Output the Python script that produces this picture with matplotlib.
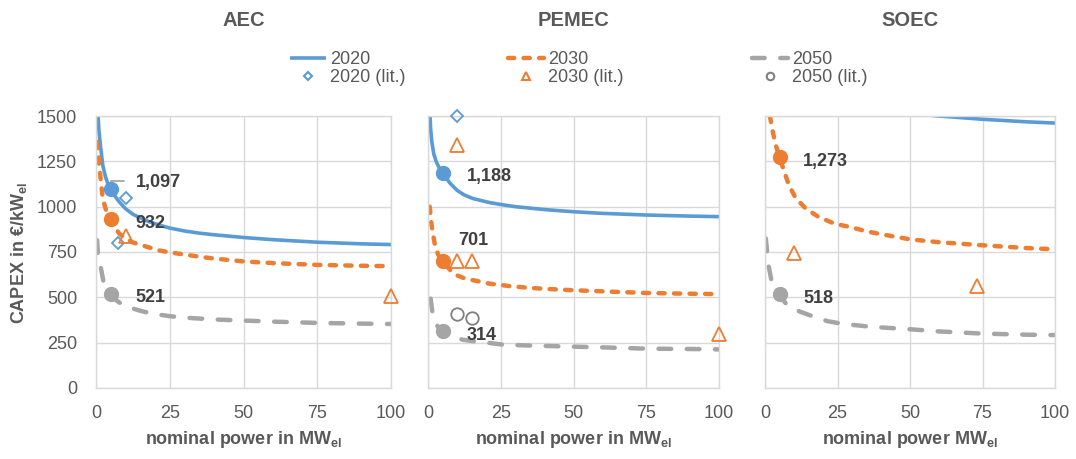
import matplotlib.pyplot as plt
from matplotlib.lines import Line2D

plt.rcParams['font.family'] = ['Liberation Sans', 'DejaVu Sans']
plt.rcParams['mathtext.default'] = 'regular'

# electrolyser types and scenario years
techs = ['AEC', 'PEMEC', 'SOEC']
years = ['2020', '2030', '2050']

# CAPEX curves over nominal power (MW_el -> EUR/kW_el)
aec_p_2020 = [0.7, 1.0, 1.5, 2.3, 3.2, 4, 5, 6, 7.7, 10, 12.5, 15.6, 18, 21.3, 25,
              30, 35, 40, 50, 60, 75, 90, 100]
aec_c_2020 = [1500, 1420, 1338, 1228, 1165, 1128, 1097, 1068, 1030, 989, 958, 934, 917,
              899, 882, 866, 854, 845, 830, 818, 804, 795, 791]
aec_p_2030 = [0.5, 1.1, 1.8, 2.3, 3.5, 5, 6.6, 8, 10, 12.5, 15.6, 21.3, 25, 30, 35, 40,
              50, 60, 75, 90, 100]
aec_c_2030 = [1357, 1228, 1118, 1044, 975, 932, 880, 850, 824, 803, 787, 759, 748, 736,
              724, 714, 698, 689, 679, 674, 672]
aec_p_2050 = [0.4, 0.6, 1.5, 2.6, 5, 7, 9.4, 14.5, 19, 25, 30, 40, 50, 60, 75, 90, 100]
aec_c_2050 = [815, 742, 676, 580, 521, 482, 455, 428, 410, 396, 388, 378, 372, 366, 359,
              355, 353]

pemec_p_2020 = [0.7, 0.9, 1.3, 2.0, 2.9, 4, 5, 6, 7.7, 10, 12.5, 15.6, 21.3, 25, 30, 40,
                50, 60, 75, 90, 100]
pemec_c_2020 = [1500, 1430, 1360, 1290, 1245, 1210, 1188, 1163, 1127, 1090, 1064, 1044,
                1022, 1012, 1000, 984, 972, 963, 954, 948, 945]
pemec_p_2030 = [0.6, 1.1, 1.7, 2.4, 3.5, 5, 6, 7.7, 10, 12.5, 15.6, 21.3, 25, 28, 35, 40,
                50, 60, 75, 90, 100]
pemec_c_2030 = [1000, 915, 850, 787, 735, 701, 680, 649, 621, 605, 594, 575, 568, 562,
                552, 547, 539, 533, 524, 520, 518]
pemec_p_2050 = [0.9, 1.5, 2.5, 3.5, 5, 8, 12, 16.7, 21.3, 25.8, 35, 50, 60, 75, 90, 100]
pemec_c_2050 = [493, 420, 365, 335, 314, 285, 266, 256, 248, 239, 234, 228, 224, 217,
                215, 213]

soec_p_2020 = [50, 60, 75, 90, 100]
soec_c_2020 = [1515, 1500, 1482, 1468, 1461]
soec_p_2030 = [1.7, 2.6, 3.6, 5, 6.5, 8.2, 10.5, 14, 18.5, 24, 29.3, 35, 40, 50, 60, 75,
               90, 100]
soec_c_2030 = [1500, 1420, 1345, 1273, 1200, 1120, 1050, 990, 943, 906, 888, 864, 848,
               820, 804, 787, 772, 765]
soec_p_2050 = [0.3, 1.1, 2.2, 3.5, 5, 7.2, 9.5, 12.4, 16.5, 21.7, 26.4, 35, 40, 50, 60,
               75, 90, 100]
soec_c_2050 = [824, 686, 594, 550, 518, 465, 440, 419, 395, 368, 355, 340, 334, 324, 312,
               300, 294, 292]

# values at the 5 MW reference size (None = outside the plotted range)
ref_power = 5
aec_ref = [1097, 932, 521]
pemec_ref = [1188, 701, 314]
soec_ref = [None, 1273, 518]

# literature values
aec_lit_p = {'2020': [10, 7.5], '2030': [10, 100], '2050': []}
aec_lit_c = {'2020': [1050, 800], '2030': [840, 510], '2050': []}
pemec_lit_p = {'2020': [10], '2030': [10, 10, 15, 100], '2050': [10, 15]}
pemec_lit_c = {'2020': [1500], '2030': [1340, 700, 700, 300], '2050': [410, 385]}
soec_lit_p = {'2020': [], '2030': [10, 73], '2050': []}
soec_lit_c = {'2020': [], '2030': [745, 560], '2050': []}

curves = {
    'AEC': {'2020': (aec_p_2020, aec_c_2020), '2030': (aec_p_2030, aec_c_2030),
            '2050': (aec_p_2050, aec_c_2050)},
    'PEMEC': {'2020': (pemec_p_2020, pemec_c_2020), '2030': (pemec_p_2030, pemec_c_2030),
              '2050': (pemec_p_2050, pemec_c_2050)},
    'SOEC': {'2020': (soec_p_2020, soec_c_2020), '2030': (soec_p_2030, soec_c_2030),
             '2050': (soec_p_2050, soec_c_2050)},
}
refs = {'AEC': aec_ref, 'PEMEC': pemec_ref, 'SOEC': soec_ref}
lit = {'AEC': (aec_lit_p, aec_lit_c), 'PEMEC': (pemec_lit_p, pemec_lit_c),
       'SOEC': (soec_lit_p, soec_lit_c)}
xlabels = {'AEC': 'nominal power in MW$_{el}$',
           'PEMEC': 'nominal power in MW$_{el}$',
           'SOEC': 'nominal power MW$_{el}$'}

colors = {'2020': '#5B9BD5', '2030': '#ED7D31', '2050': '#A5A5A5'}
line_kw = {
    '2020': dict(lw=2.6, ls='-', solid_capstyle='butt'),
    '2030': dict(lw=3.2, ls=(0, (1.4, 2.1)), dash_capstyle='round'),
    '2050': dict(lw=3.2, ls=(0, (2.85, 3.5)), dash_capstyle='round'),
}
lit_kw = {
    '2020': dict(marker='D', ms=6.5, mec='#5B9BD5'),
    '2030': dict(marker='^', ms=9.5, mec='#ED7D31'),
    '2050': dict(marker='o', ms=9, mec='#808080'),
}
# data label offsets in points (dx, dy)
label_off = {
    'AEC': [(18, 4.5), (17.5, -3), (17.5, -3)],
    'PEMEC': [(17.5, -3), (11.5, 15), (17.5, -3)],
    'SOEC': [None, (17, -3), (17, -3)],
}

txt = '#595959'
W, H = 1076, 459
panel_px = {'AEC': (96, 391), 'PEMEC': (428, 719), 'SOEC': (765, 1055)}
bot_px, top_px = 388, 116

fig = plt.figure(figsize=(W / 100, H / 100), dpi=100)

for i, t in enumerate(techs):
    l, r = panel_px[t]
    ax = fig.add_axes([l / W, (H - bot_px) / H, (r - l) / W, (bot_px - top_px) / H])
    ax.set_xlim(0, 100)
    ax.set_ylim(0, 1500)
    ax.set_xticks([0, 25, 50, 75, 100])
    ax.set_yticks([0, 250, 500, 750, 1000, 1250, 1500])
    ax.grid(color='#D9D9D9', lw=1.0)
    ax.set_axisbelow(True)
    for s in ax.spines.values():
        s.set_color('#D9D9D9')
        s.set_linewidth(1.0)
    ax.tick_params(length=0, labelsize=13, labelcolor=txt)
    ax.tick_params(axis='x', pad=12)
    ax.tick_params(axis='y', pad=13.5)
    if i > 0:
        ax.set_yticklabels([])

    for k, y in enumerate(years):
        p, c = curves[t][y]
        ax.plot(p, c, color=colors[y], zorder=2, **line_kw[y])
        v = refs[t][k]
        if v is not None:
            ax.plot(ref_power, v, 'o', color=colors[y], ms=10, zorder=3)
            dx, dy = label_off[t][k]
            arrow = None
            if t == 'AEC' and k == 0:
                # leader line for the shifted label
                arrow = dict(arrowstyle='-', color='#A6A6A6', lw=1.3,
                             connectionstyle='angle,angleA=0,angleB=90,rad=0',
                             relpos=(0, 0.6), shrinkA=6.5, shrinkB=0)
            ax.annotate(f'{v:,}', xy=(ref_power, v), xytext=(dx, dy),
                        textcoords='offset points', ha='left', va='center',
                        fontsize=13, fontweight='bold', color='#404040',
                        arrowprops=arrow, zorder=2.5)
        lp, lc = lit[t][0][y], lit[t][1][y]
        if lp:
            ax.plot(lp, lc, ls='none', mfc='none', mew=1.3, clip_on=False,
                    zorder=4, **lit_kw[y])

    ax.set_xlabel(xlabels[t], fontsize=13, fontweight='bold', color=txt, labelpad=5)
    fig.text((l + r) / 2 / W, (H - 20) / H, t, ha='center', va='center',
             fontsize=14.5, fontweight='bold', color=txt)

fig.text(19.5 / W, (H - 253) / H, 'CAPEX in €/kW$_{el}$', rotation=90,
         ha='center', va='center', fontsize=13, fontweight='bold', color=txt)

# legend: one block per year, line on top, literature marker below
leg_x = {'2020': 290, '2030': 508, '2050': 752}
for y in years:
    h_line = Line2D([], [], color=colors[y], **line_kw[y])
    kw = dict(lit_kw[y])
    kw['ms'] = kw['ms'] * 0.6
    h_lit = Line2D([], [], ls='none', mfc='none', mew=1.5, **kw)
    fig.legend([h_line, h_lit], [y, f'{y} (lit.)'], loc='upper left',
               bbox_to_anchor=(leg_x[y] / W, (H - 51) / H), frameon=False,
               fontsize=13, labelcolor=txt, handlelength=2.0, handletextpad=0.2,
               labelspacing=0.05, borderpad=0, borderaxespad=0)

fig.savefig('out.png', dpi=100)
